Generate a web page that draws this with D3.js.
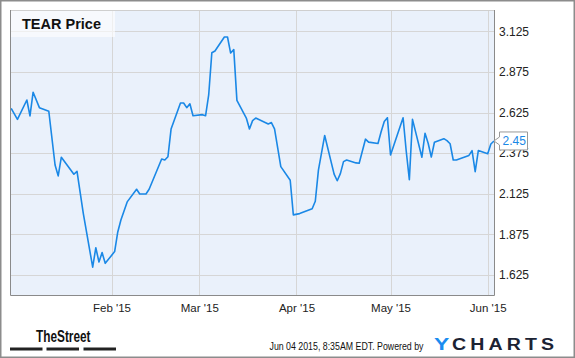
<!DOCTYPE html>
<html>
<head>
<meta charset="utf-8">
<script src="https://cdn.jsdelivr.net/npm/d3@7"></script>
<style>
  html, body { margin: 0; padding: 0; background: #fff; }
  svg { display: block; }
  text { font-family: "Liberation Sans", Arial, sans-serif; }
</style>
</head>
<body>
<svg id="chart" width="575" height="358"></svg>
<script>
// ---- data ----
const dates = [
  "2014-12-31","2015-01-02","2015-01-05","2015-01-06","2015-01-07","2015-01-09","2015-01-12","2015-01-14",
  "2015-01-15","2015-01-16","2015-01-20","2015-01-21","2015-01-23","2015-01-26","2015-01-27","2015-01-28",
  "2015-01-29","2015-01-30","2015-02-02","2015-02-03","2015-02-04","2015-02-06","2015-02-09","2015-02-10",
  "2015-02-12","2015-02-13","2015-02-17","2015-02-18","2015-02-19","2015-02-20","2015-02-23","2015-02-24",
  "2015-02-25","2015-02-26","2015-02-27","2015-03-02","2015-03-03","2015-03-04","2015-03-05","2015-03-06",
  "2015-03-09","2015-03-10","2015-03-11","2015-03-12","2015-03-13","2015-03-16","2015-03-17","2015-03-18",
  "2015-03-19","2015-03-23","2015-03-24","2015-03-25","2015-03-27","2015-03-30","2015-03-31","2015-04-02",
  "2015-04-06","2015-04-07","2015-04-08","2015-04-10","2015-04-13","2015-04-14","2015-04-15","2015-04-16",
  "2015-04-17","2015-04-20","2015-04-21","2015-04-23","2015-04-24","2015-04-27","2015-04-28","2015-04-29",
  "2015-04-30","2015-05-01","2015-05-05","2015-05-06","2015-05-07","2015-05-08","2015-05-11","2015-05-12",
  "2015-05-13","2015-05-14","2015-05-15","2015-05-18","2015-05-19","2015-05-20","2015-05-21","2015-05-22",
  "2015-05-26","2015-05-27","2015-05-28","2015-05-29","2015-06-01","2015-06-02","2015-06-03"
];
const prices = [
  2.651,2.583,2.702,2.604,2.750,2.655,2.633,2.302,
  2.235,2.350,2.245,2.263,2.005,1.673,1.793,1.705,
  1.763,1.697,1.769,1.890,1.964,2.075,2.153,2.124,
  2.124,2.153,2.339,2.333,2.353,2.523,2.684,2.684,
  2.655,2.679,2.605,2.612,2.605,2.733,2.993,3.004,
  3.090,3.090,2.991,3.012,2.700,2.591,2.524,2.575,
  2.591,2.555,2.563,2.524,2.292,2.208,1.995,2.003,
  2.033,2.079,2.271,2.484,2.246,2.205,2.249,2.323,
  2.333,2.315,2.313,2.461,2.443,2.434,2.507,2.570,
  2.593,2.364,2.593,2.388,2.212,2.583,2.350,2.497,
  2.436,2.351,2.442,2.464,2.452,2.433,2.333,2.333,
  2.361,2.390,2.261,2.391,2.372,2.431,2.450
];
const yTickValues = [1.625, 1.875, 2.125, 2.375, 2.625, 2.875, 3.125];
const xTickDates = ["2015-02-01","2015-03-01","2015-04-01","2015-05-01","2015-06-01"];
const title = "TEAR Price";
const lastLabel = "2.45";
const footerText = "Jun 04 2015, 8:35AM EDT.  Powered by";

// ---- layout ----
const parse = d3.utcParse("%Y-%m-%d");
const data = dates.map((d, i) => ({ date: parse(d), value: prices[i] }));
const plot = { left: 10, top: 10, right: 494, bottom: 295 };
const svg = d3.select("#chart");

const x = d3.scaleUtc()
  .domain([new Date(Date.UTC(2014, 11, 30, 15)), new Date(Date.UTC(2015, 5, 3, 0))])
  .range([plot.left, plot.right]);
const y = d3.scaleLinear()
  .domain([1.502, 3.256])
  .range([plot.bottom, plot.top]);

// outer frame
svg.append("rect")
  .attr("x", 0.75).attr("y", 0.75).attr("width", 573.5).attr("height", 356.5)
  .attr("fill", "#fff").attr("stroke", "#8c8c8c").attr("stroke-width", 1.5);

// plot background
svg.append("rect")
  .attr("x", plot.left).attr("y", plot.top)
  .attr("width", plot.right - plot.left).attr("height", plot.bottom - plot.top)
  .attr("fill", "#eaf1fb");

// gridlines
const grid = svg.append("g").attr("stroke", "#d6d6d6").attr("stroke-width", 1);
grid.selectAll("line.h").data(yTickValues).join("line")
  .attr("x1", plot.left).attr("x2", plot.right)
  .attr("y1", d => Math.round(y(d)) + 0.5).attr("y2", d => Math.round(y(d)) + 0.5);
grid.selectAll("line.v").data(xTickDates.map(parse)).join("line")
  .attr("y1", plot.top).attr("y2", plot.bottom)
  .attr("x1", d => Math.round(x(d)) + 0.5).attr("x2", d => Math.round(x(d)) + 0.5);

// clip
svg.append("clipPath").attr("id", "clip").append("rect")
  .attr("x", plot.left).attr("y", plot.top)
  .attr("width", plot.right - plot.left + 1).attr("height", plot.bottom - plot.top);

// price line
const line = d3.line().x(d => x(d.date)).y(d => y(d.value));
svg.append("path").datum(data)
  .attr("clip-path", "url(#clip)")
  .attr("fill", "none").attr("stroke", "#1a88e6").attr("stroke-width", 1.6)
  .attr("stroke-linejoin", "round")
  .attr("d", line);

// plot border
svg.append("line").attr("x1", plot.left).attr("x2", plot.right).attr("y1", plot.top + 0.5).attr("y2", plot.top + 0.5)
  .attr("stroke", "#cfcfcf");
svg.append("path")
  .attr("d", `M${plot.left + 0.5},${plot.top}V${plot.bottom + 0.5}H${plot.right + 0.5}V${plot.top}`)
  .attr("fill", "none").attr("stroke", "#8a8a8a").attr("stroke-width", 1);

// title box
svg.append("rect").attr("x", plot.left + 1).attr("y", plot.top + 1).attr("width", 104).attr("height", 26)
  .attr("fill", "#ffffff").attr("fill-opacity", 0.6);
svg.append("text").attr("x", 22).attr("y", 28.5)
  .attr("font-size", 14.5).attr("font-weight", "bold").attr("fill", "#111")
  .text(title);

// y axis (right)
const yAxis = d3.axisRight(y).tickValues(yTickValues).tickFormat(d3.format(".3f")).tickSize(0).tickPadding(5);
const gy = svg.append("g").attr("transform", `translate(${plot.right},0)`).call(yAxis);
gy.select(".domain").remove();
gy.selectAll("text").attr("font-size", 12).attr("fill", "#222")
  .attr("font-family", "'Liberation Sans', Arial, sans-serif");

// x axis
const xAxis = d3.axisBottom(x).tickValues(xTickDates.map(parse)).tickFormat(d3.utcFormat("%b '%y")).tickSize(0).tickPadding(9);
const gx = svg.append("g").attr("transform", `translate(0,${plot.bottom})`).call(xAxis);
gx.select(".domain").remove();
gx.selectAll("text").attr("font-size", 11.5).attr("fill", "#222")
  .attr("font-family", "'Liberation Sans', Arial, sans-serif");

// last value flag
const last = data[data.length - 1];
const ly = y(last.value);
const fx = plot.right + 5.5;
svg.append("path")
  .attr("d", `M${fx},${ly - 9}H${fx + 28}V${ly + 9}H${fx}V${ly + 4}L${plot.right},${ly}L${fx},${ly - 4}Z`)
  .attr("fill", "#fff").attr("stroke", "#999").attr("stroke-width", 1);
svg.append("text").attr("x", fx + 3).attr("y", ly + 4.5)
  .attr("font-size", 12).attr("fill", "#1a88e6").text(lastLabel);

// footer: TheStreet logo
svg.append("text").attr("transform", "translate(36,342) scale(0.74,1)")
  .attr("font-size", 16).attr("font-weight", "bold").attr("fill", "#111")
  .text("TheStreet");
[[10, 42.5], [46.5, 79], [83.5, 116]].forEach(([a, b]) => {
  svg.append("rect").attr("x", a).attr("y", 347.5).attr("width", b - a).attr("height", 3).attr("fill", "#222");
});

// footer: timestamp
svg.append("text").attr("transform", "translate(269.5,350) scale(0.8,1)")
  .attr("font-size", 11).attr("fill", "#111")
  .text(footerText);

// footer: YCHARTS logo
svg.append("text").attr("transform", "translate(434,349.5) scale(1.35,1)")
  .attr("font-size", 17).attr("font-weight", "bold").attr("fill", "#1a8cf0")
  .text("Y");
svg.append("text").attr("transform", "translate(452,349.5) scale(1.15,1)")
  .attr("font-size", 17).attr("font-weight", "bold").attr("fill", "#1c2333")
  .attr("letter-spacing", 3.6)
  .text("CHARTS");
</script>
</body>
</html>
